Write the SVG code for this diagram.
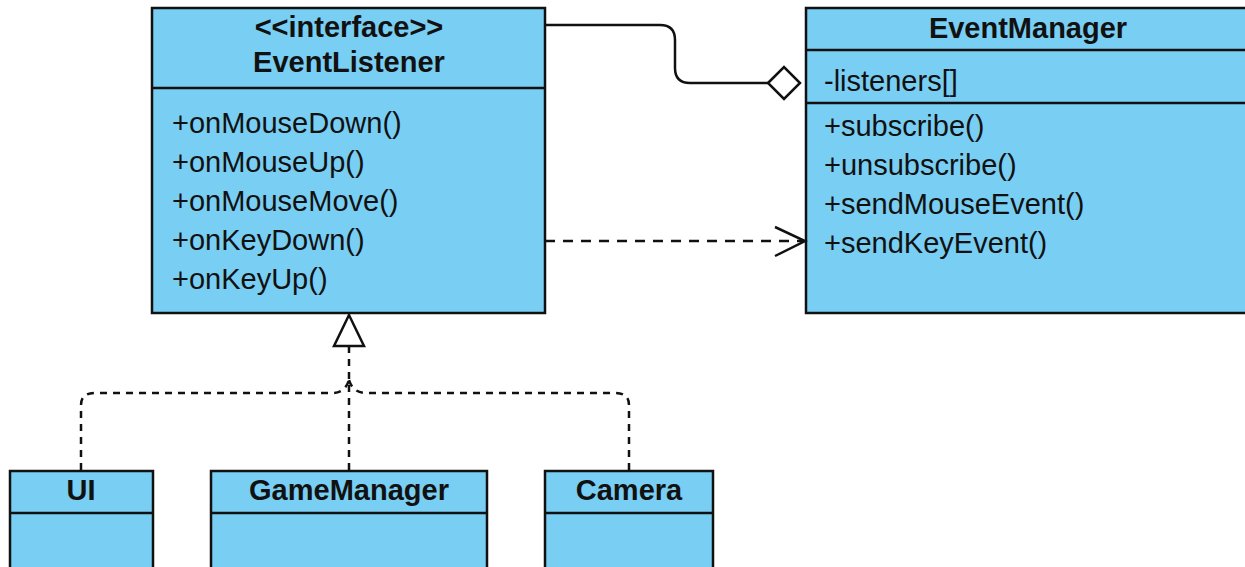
<svg xmlns="http://www.w3.org/2000/svg" width="1245" height="567" viewBox="0 0 1245 567">
<defs>
<style>
.box{fill:#79CEF3;stroke:#111;stroke-width:2.5}
.ln{stroke:#111;stroke-width:2.5;fill:none}
.t{font-family:"Liberation Sans",Arial,sans-serif;font-size:29px;fill:#111}
.b{font-weight:bold;text-anchor:middle}
.d{stroke-dasharray:10,8}
.d2{stroke-dasharray:7,6}
</style>
</defs>
<rect width="1245" height="567" fill="#fff"/>
<g id="EventListener">
<rect class="box" x="152" y="8" width="393" height="305"/>
<line class="ln" x1="152" y1="88" x2="545" y2="88"/>
<text class="t b" x="349" y="37">&lt;&lt;interface&gt;&gt;</text>
<text class="t b" x="349" y="72">EventListener</text>
<text class="t" x="172" y="133">+onMouseDown()</text>
<text class="t" x="172" y="172">+onMouseUp()</text>
<text class="t" x="172" y="211">+onMouseMove()</text>
<text class="t" x="172" y="250">+onKeyDown()</text>
<text class="t" x="172" y="289">+onKeyUp()</text>
</g>
<g id="EventManager">
<rect class="box" x="806" y="8" width="450" height="305"/>
<line class="ln" x1="806" y1="50" x2="1256" y2="50"/>
<line class="ln" x1="806" y1="103" x2="1256" y2="103"/>
<text class="t b" x="1028" y="38">EventManager</text>
<text class="t" x="824" y="91">-listeners[]</text>
<text class="t" x="824" y="136">+subscribe()</text>
<text class="t" x="824" y="175">+unsubscribe()</text>
<text class="t" x="824" y="214">+sendMouseEvent()</text>
<text class="t" x="824" y="253">+sendKeyEvent()</text>
</g>
<g id="UI">
<rect class="box" x="10" y="471" width="143" height="110"/>
<line class="ln" x1="10" y1="513" x2="153" y2="513"/>
<text class="t b" x="81" y="500">UI</text>
</g>
<g id="GameManager">
<rect class="box" x="211" y="471" width="276" height="110"/>
<line class="ln" x1="211" y1="513" x2="487" y2="513"/>
<text class="t b" x="349" y="500">GameManager</text>
</g>
<g id="Camera">
<rect class="box" x="545" y="471" width="168" height="110"/>
<line class="ln" x1="545" y1="513" x2="713" y2="513"/>
<text class="t b" x="629" y="500">Camera</text>
</g>
<g id="connectors">
<path class="ln" d="M545 25 H660 Q675 25 675 40 V68 Q675 83 690 83 H768"/>
<polygon points="768,83 784,67 800,83 784,99" fill="#fff" stroke="#111" stroke-width="2.5"/>
<line class="ln d" x1="545" y1="241" x2="804" y2="241"/>
<polyline class="ln" points="775,227 805,241 775,256"/>
<polygon points="349,315 334,346 364,346" fill="#fff" stroke="#111" stroke-width="2.5"/>
<line class="ln d2" x1="349" y1="346" x2="349" y2="470"/>
<path class="ln d2" d="M81 470 V405 Q81 393 95 393 H332 Q345 393 349 380"/>
<path class="ln d2" d="M629 470 V405 Q629 393 615 393 H366 Q353 393 349 380"/>
</g>
</svg>
